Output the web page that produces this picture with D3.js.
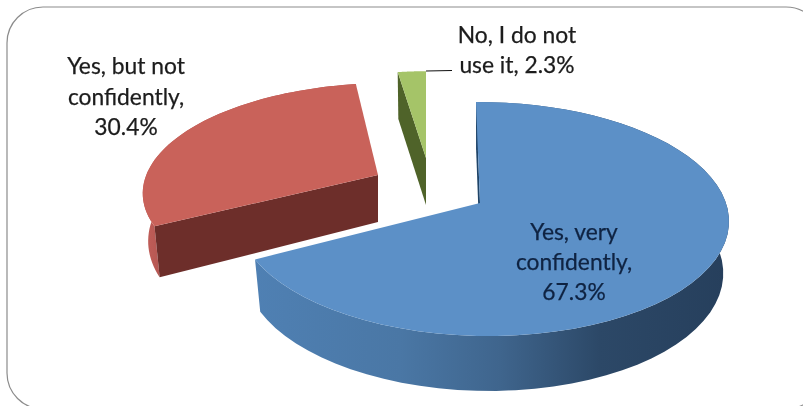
<!DOCTYPE html>
<html><head><meta charset="utf-8">
<script src="https://cdn.jsdelivr.net/npm/d3@7"></script>
<style>html,body{margin:0;padding:0;background:#fff}svg{display:block;filter:blur(.5px)}text{font-family:Lato,"Open Sans",sans-serif;font-size:22.8px;stroke-width:.25px}</style>
</head><body><svg id="c" width="803" height="406"></svg>
<script>
const categories = ["Yes, very confidently", "Yes, but not confidently", "No, I do not use it"];
const shares = [67.3, 30.4, 2.3];
const valueLabels = ["67.3%", "30.4%", "2.3%"];
const labelLines = [["Yes, very", "confidently,", "67.3%"], ["Yes, but not", "confidently,", "30.4%"], ["No, I do not", "use it, 2.3%"]];
const topColors = ["#5c90c7", "#c9625a", "#a5c468"];
const cutColors = ["#1f4468", "#6d2e2a", "#4f6329"];
const textColors = ["#0f2342", "#1c1c1c", "#1c1c1c"];

// projection of the tilted pie: far rim is shorter than near rim
const A = 243, B = 114.8, P = 0.137, Q = 0.012, BOTTOM_K = 0.977;
const geom = [
  {x: 480, y: 203, kx: 1, ky: 1, s: 4.5, d: 51, e: 0.5},
  {x: 378, y: 175, kx: 0.965, ky: 0.91, s: -9, d: 47, e: 1.5},
  {x: 426, y: 158, kx: 0.92, ky: 0.86, s: 0, d: 47, e: 0}
];
const labelPos = [{x: 574, y: [240, 270, 300]}, {x: 126, y: [74, 105, 135]}, {x: 517, y: [43, 73]}];

const svg = d3.select("#c");
const defs = svg.append("defs");
const grad = (id, stops) => {
  const g = defs.append("linearGradient").attr("id", id).attr("gradientUnits", "userSpaceOnUse")
    .attr("x1", stops[0][0]).attr("x2", stops[stops.length - 1][0]).attr("y1", 0).attr("y2", 0);
  stops.forEach(s => g.append("stop").attr("offset", (s[0] - stops[0][0]) / (stops[stops.length - 1][0] - stops[0][0])).attr("stop-color", s[1]));
};
grad("blueWall", [[255, "#4f80b3"], [400, "#4a77a5"], [500, "#3f658d"], [600, "#2c4867"], [728, "#263f5c"]]);
grad("redWall", [[142, "#c4605a"], [165, "#b05450"]]);

svg.append("rect").attr("x", 7).attr("y", 7).attr("width", 815).attr("height", 402).attr("rx", 36)
  .attr("fill", "#fff").attr("stroke", "#8c8c8c").attr("stroke-width", 1.2);

const pieGen = d3.pie().sort(null).startAngle(0).endAngle(2 * Math.PI);
const arcs = pieGen(shares);
const project = (g, t, bottom) => {
  const u = Math.sin(t), v = -Math.cos(t), w = 1 - P * v - Q * u;
  const k = bottom ? BOTTOM_K : 1;
  return [g.x + k * g.kx * (A * u + g.s * v) / w,
          g.y + g.ky * B * v / w + (bottom ? g.d / Math.pow(w, g.e) : 0)];
};
const line = d3.line();
const samples = (a, b) => d3.range(0, 61).map(i => a + (b - a) * i / 60);
const order = [1, 2, 0];

order.forEach(i => {
  const g = geom[i], a0 = arcs[i].startAngle, a1 = arcs[i].endAngle;
  const ts = samples(a0, a1);
  const apexT = [g.x, g.y], apexB = [g.x, g.y + g.d];
  const group = svg.append("g").attr("class", "slice");
  if (i !== 2) {
    const wall = ts.map(t => project(g, t, false)).concat(ts.slice().reverse().map(t => project(g, t, true)));
    group.append("path").attr("d", line(wall) + "Z").attr("fill", i === 0 ? "url(#blueWall)" : "url(#redWall)");
  }
  const pT = project(g, a0, false), pB = project(g, a0, true);
  group.append("path").attr("d", line([apexT, pT, pB, apexB]) + "Z").attr("fill", cutColors[i]);
  group.append("path").attr("d", line([apexT].concat(ts.map(t => project(g, t, false)))) + "Z").attr("fill", topColors[i]);
});

// leader line for the thin slice
svg.append("line").attr("x1", 426).attr("y1", 71).attr("x2", 452).attr("y2", 70.5).attr("stroke", "#111").attr("stroke-width", 1.2);

labelLines.forEach((lines, i) => {
  lines.forEach((s, j) => {
    svg.append("text").attr("x", labelPos[i].x).attr("y", labelPos[i].y[j]).attr("text-anchor", "middle")
      .attr("fill", textColors[i]).attr("stroke", textColors[i]).text(s);
  });
});
</script></body></html>
